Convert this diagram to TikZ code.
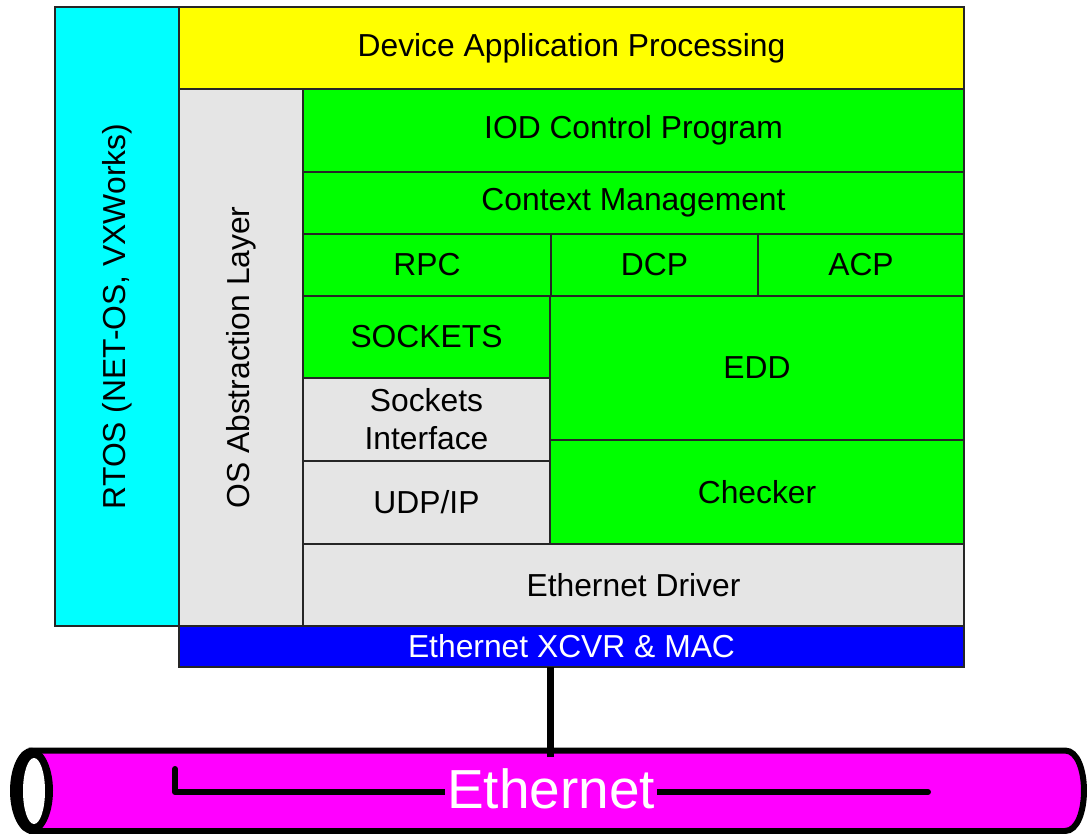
\documentclass[tikz,border=0pt]{standalone}
\usepackage{fontspec}
\setmainfont{Liberation Sans}
\newcommand\lab{\fontsize{31.8}{38}\selectfont}
\newcommand\biglab{\fontsize{55}{60}\selectfont}
\definecolor{cgray}{RGB}{229,229,229}
\definecolor{cgreen}{RGB}{0,255,0}
\definecolor{cyellow}{RGB}{255,255,0}
\definecolor{ccyan}{RGB}{0,255,255}
\definecolor{cblue}{RGB}{0,0,255}
\definecolor{cmag}{RGB}{255,0,255}
\tikzset{
  blk/.style={draw=black!85, line width=1.2pt, inner sep=0pt, outer sep=0pt,
    anchor=north west, font=\lab, align=center},
  gbox/.style={blk, fill=cgreen},
  gybox/.style={blk, fill=cgray},
  rottxt/.style={rotate=90, font=\lab, inner sep=0pt},
  pipe/.style={line width=6pt, line cap=round, line join=round},
}
\begin{document}
\begin{tikzpicture}[x=1pt,y=-1pt]
\useasboundingbox (0,0) rectangle (1092,834);
% outer blocks
\node[blk, fill=ccyan, minimum width=124pt, minimum height=619pt] (rtos) at (55,7) {};
\node[rottxt] (rtostxt) at (rtos.center) {RTOS (NET-OS, VXWorks)};
\node[blk, fill=cyellow, minimum width=785pt, minimum height=82pt] (dap) at (179,7) {Device Application Processing};
\node[gybox, minimum width=124pt, minimum height=537pt] (osal) at (179,89) {};
\node[rottxt] (osaltxt) at (osal.center) {OS Abstraction Layer};
% green stack
\node[gbox, minimum width=661pt, minimum height=83pt] (iod) at (303,89) {IOD Control Program};
\node[gbox, minimum width=661pt, minimum height=62pt] (ctx) at (303,172) {Context Management};
\node[gbox, minimum width=248pt, minimum height=62pt] (rpc) at (303,234) {RPC};
\node[gbox, minimum width=207pt, minimum height=62pt] (dcp) at (551,234) {DCP};
\node[gbox, minimum width=206pt, minimum height=62pt] (acp) at (758,234) {ACP};
\node[gbox, minimum width=247pt, minimum height=82pt] (sock) at (303,296) {SOCKETS};
\node[gybox, minimum width=247pt, minimum height=83pt] (sif) at (303,378) {Sockets\\Interface};
\node[gybox, minimum width=247pt, minimum height=83pt] (udp) at (303,461) {UDP/IP};
\node[gbox, minimum width=414pt, minimum height=144pt] (edd) at (550,296) {EDD};
\node[gbox, minimum width=414pt, minimum height=104pt] (chk) at (550,440) {Checker};
\node[gybox, minimum width=661pt, minimum height=82pt] (drv) at (303,544) {Ethernet Driver};
\node[blk, fill=cblue, text=white, minimum width=785pt, minimum height=41pt] (xcvr) at (179,626) {Ethernet XCVR \& MAC};
% Ethernet cylinder
\draw[line width=6pt, fill=cmag] (31.5,750.5) -- (1065,750.5)
  .. controls (1090.3,750.5) and (1090.3,831) .. (1065,831) -- (31.5,831) -- cycle;
\fill[black] (31.5,790.75) ellipse [x radius=21.5pt, y radius=43pt];
\fill[white] (34,791) ellipse [x radius=11pt, y radius=33pt];
\coordinate (lstart) at (175,769);
\coordinate (lbend) at (175,792);
\coordinate (lend) at (928,792);
\draw[pipe] (lstart) -- (lbend) -- (lend);
\node[fill=cmag, text=white, font=\biglab, inner xsep=2pt, inner ysep=0pt] (eth) at (551,789) {Ethernet};
% tap from XCVR to cable
\coordinate (tap) at (550.5,757);
\draw[line width=7pt] (tap |- xcvr.south) -- (tap);
\end{tikzpicture}
\end{document}
